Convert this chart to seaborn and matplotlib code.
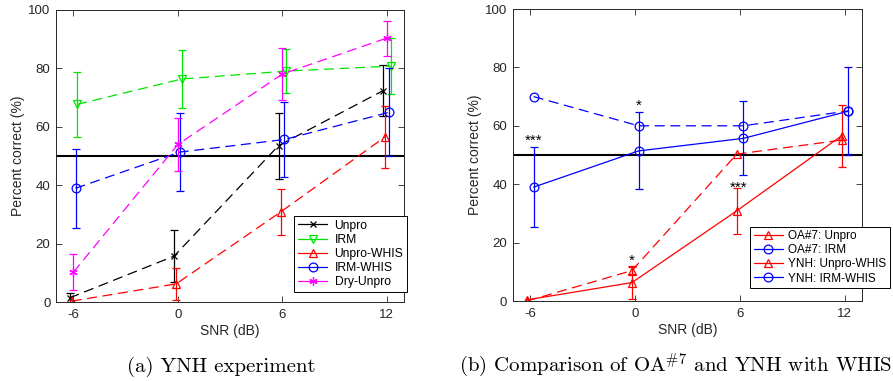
import numpy as np
import pandas as pd
import matplotlib
matplotlib.use("Agg")
import matplotlib.pyplot as plt
import seaborn as sns

# ---------------- data ----------------
snr = [-6, 0, 6, 12]
snr_ticks = [-6, 0, 6, 12]
pct_ticks = [0, 20, 40, 60, 80, 100]
chance = 50

# panel (a): YNH experiment
unpro = [1.5, 15.8, 53.6, 72.4]
unpro_err = [1.7, 9.0, 11.3, 8.7]
irm = [67.7, 76.4, 79.1, 80.8]
irm_err = [11.2, 10.0, 7.6, 9.5]
unpro_whis = [0.4, 6.3, 30.9, 56.6]
unpro_whis_err = [0.0, 5.6, 7.8, 10.6]
irm_whis = [39.0, 51.4, 55.7, 65.0]
irm_whis_err = [13.6, 13.2, 12.7, 15.0]
dry_unpro = [10.3, 54.0, 78.1, 90.4]
dry_unpro_err = [6.1, 9.0, 8.9, 6.0]
left_labels = ["Unpro", "IRM", "Unpro-WHIS", "IRM-WHIS", "Dry-Unpro"]

# panel (b): OA#7 vs YNH
oa7_unpro = [0.0, 10.4, 50.3, 55.1]
oa7_unpro_err = [0.0, 1.1, 0.0, 0.0]
oa7_irm = [70.0, 60.0, 60.0, 65.1]
right_labels = ["OA#7: Unpro", "OA#7: IRM", "YNH: Unpro-WHIS", "YNH: IRM-WHIS"]
sig_marks = ["***", "*", "*", "***"]
sig_snr = [-6, 0, 0, 6]
sig_pct = [53.5, 65.5, 12.5, 37.5]

captions = ["(a) YNH experiment", r"(b) Comparison of OA$^{\#7}$ and YNH with WHIS"]

# ---------------- style ----------------
sns.set_theme(style="white")
plt.rcParams["font.family"] = ["Liberation Sans", "DejaVu Sans"]
plt.rcParams["mathtext.fontset"] = "cm"
plt.rcParams["lines.scale_dashes"] = True

TXT = "#262626"
RED, BLUE, GREEN, BLACK, MAG = "#ff0000", "#0000ff", "#00e600", "#000000", "#ff00ff"
DASH = (0, (8, 4.5))
LW = 0.9

fig = plt.figure(figsize=(8.93, 3.81), dpi=100)
axL = fig.add_axes([56 / 893, 1 - 302.3 / 381, 348.3 / 893, 292.3 / 381])
axR = fig.add_axes([512.7 / 893, 1 - 301 / 381, 349.6 / 893, 292 / 381])


def series(ax, y, err, off, color, marker, ms, ls, label):
    x = np.array(snr, dtype=float) + off
    df = pd.DataFrame({"snr": x, "pct": y})
    n0 = len(ax.lines)
    sns.lineplot(data=df, x="snr", y="pct", ax=ax, color=color, errorbar=None,
                 marker=marker, markersize=ms, markerfacecolor="none",
                 markeredgecolor=color, markeredgewidth=0.9, linewidth=LW,
                 label=label, legend=False)
    ax.lines[n0].set_linestyle(ls)
    if err is not None:
        e = np.array(err, dtype=float)
        m = e > 0
        ax.errorbar(x[m], np.array(y)[m], yerr=e[m], fmt="none", ecolor=color,
                    elinewidth=0.9, capsize=2.6, capthick=0.9)


# panel (a)
series(axL, unpro, unpro_err, -0.22, BLACK, "x", 4, DASH, left_labels[0])
series(axL, irm, irm_err, 0.22, GREEN, "v", 6.3, DASH, left_labels[1])
series(axL, unpro_whis, unpro_whis_err, -0.1, RED, "^", 6.3, DASH, left_labels[2])
series(axL, irm_whis, irm_whis_err, 0.12, BLUE, "o", 6.3, DASH, left_labels[3])
series(axL, dry_unpro, dry_unpro_err, 0.0, MAG, (6, 2, 0), 6, DASH, left_labels[4])

# panel (b)
series(axR, oa7_unpro, oa7_unpro_err, -0.18, RED, "^", 6.3, DASH, right_labels[0])
series(axR, oa7_irm, None, 0.2, BLUE, "o", 6.3, DASH, right_labels[1])
series(axR, unpro_whis, unpro_whis_err, -0.18, RED, "^", 6.3, "-", right_labels[2])
series(axR, irm_whis, irm_whis_err, 0.2, BLUE, "o", 6.3, "-", right_labels[3])

sig_off = [0.2, 0.2, -0.18, -0.1]
for s, xv, yv, o in zip(sig_marks, sig_snr, sig_pct, sig_off):
    axR.text(xv + o, yv, s, ha="center", va="baseline", fontsize=11, color="black")

for ax in (axL, axR):
    ax.axhline(chance, color="black", linewidth=1.5, zorder=1.5)
    ax.set_xlim(-7, 13)
    ax.set_ylim(0, 100)
    ax.set_xticks(snr_ticks)
    ax.set_yticks(pct_ticks)
    ax.set_xticklabels([str(t) for t in snr_ticks])
    ax.set_yticklabels([str(t) for t in pct_ticks])
    ax.tick_params(axis="both", direction="in", length=4, width=0.6, colors=TXT,
                   labelsize=9.5, top=True, right=True, bottom=True, left=True)
    ax.tick_params(axis="x", pad=5)
    ax.tick_params(axis="y", pad=4)
    for sp in ax.spines.values():
        sp.set_visible(True)
        sp.set_color(TXT)
        sp.set_linewidth(0.7)
    ax.set_xlabel("SNR (dB)", fontsize=10, color=TXT, labelpad=2)
    ax.set_ylabel("Percent correct (%)", fontsize=10, color=TXT, labelpad=2)
    ax.grid(False)

legkw = dict(frameon=True, fancybox=False, framealpha=1,
             edgecolor="black", borderpad=0.3, labelspacing=0.18,
             handlelength=2.45)
legL = axL.legend(loc="lower right", bbox_to_anchor=(1.025, 0.0147),
                  fontsize=8.7, handletextpad=0.6, **legkw)
legR = axR.legend(loc="lower left", bbox_to_anchor=(0.662, 0.024),
                  fontsize=8.5, handletextpad=0.5, **legkw)
for leg in (legL, legR):
    leg.get_frame().set_linewidth(0.7)
    for ln in leg.get_lines():
        ln.set_linestyle("-")
    for t in leg.get_texts():
        t.set_color("black")

fig.text(221.7 / 893, 1 - 371.7 / 381, captions[0], ha="center", va="baseline",
         fontsize=15, family="cmr10", color="black")
fig.text(459 / 893, 1 - 371.7 / 381, captions[1], ha="left", va="baseline",
         fontsize=15, family="cmr10", color="black")

fig.savefig("out.png", dpi=100)
